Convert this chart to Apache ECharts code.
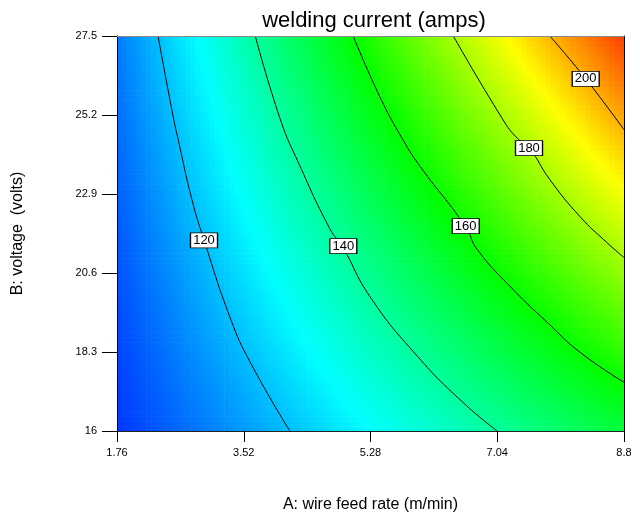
<!DOCTYPE html>
<html>
<head>
<meta charset="utf-8">
<script src="https://cdn.jsdelivr.net/npm/echarts@6/dist/echarts.min.js"></script>
<style>
  html, body { margin: 0; padding: 0; background: #fff; }
  #chart { width: 640px; height: 518px; }
</style>
</head>
<body>
<div id="chart"></div>
<script>
  // A: wire feed rate (m/min) and B: voltage (volts) at the tick positions
  const feedRate = [1.76, 3.52, 5.28, 7.04, 8.8]
  const voltage = [16, 18.3, 20.6, 22.9, 25.2, 27.5]
  // welding current, one row per voltage, one column per feed rate
  const current = [
    [102.8, 115.2, 127.6, 140.0, 152.4],
    [104.5, 119.6, 134.8, 149.9, 165.1],
    [106.2, 124.0, 141.9, 159.8, 177.7],
    [107.9, 128.5, 149.1, 169.7, 190.3],
    [109.6, 132.9, 156.2, 179.6, 202.9],
    [111.3, 137.4, 163.4, 189.4, 215.5]
  ]

  // contour lines, [feed rate, voltage]
  const levels = [120, 140, 160, 180, 200]
  const c120 = [[2.33, 27.5], [2.54, 25.15], [2.61, 24.48], [2.8, 22.74], [2.97, 21.55], [3.34, 19.25], [3.61, 18.0], [4.16, 16]]
  const c140 = [[3.68, 27.5], [4.03, 25.06], [4.28, 23.81], [4.72, 21.87], [4.89, 21.37], [5.27, 19.92], [5.93, 18.18], [6.56, 16.84], [7.04, 16]]
  const c160 = [[5.04, 27.5], [5.41, 25.73], [5.73, 24.48], [5.97, 23.7], [6.6, 21.95], [6.76, 21.29], [7.26, 20.12], [7.73, 19.17], [8.19, 18.29], [8.8, 17.42]]
  const c180 = [[6.43, 27.5], [7.12, 25.06], [7.31, 24.54], [7.48, 24.25], [7.77, 23.32], [8.19, 22.24], [8.56, 21.49], [8.8, 21.05]]
  const c200 = [[7.77, 27.5], [8.27, 26.25], [8.8, 24.77]]
  const contours = [c120, c140, c160, c180, c200]
  // where the level labels sit
  const labelPos = [[2.968, 21.547], [4.902, 21.381], [6.602, 21.962], [7.481, 24.239], [8.268, 26.251]]

  const palette = ['#0000ff', '#00ffff', '#00ff00', '#ffff00', '#ff0000']
  const colorMin = 96
  const colorMax = 223

  function colorOf(v) {
    let t = (v - colorMin) / (colorMax - colorMin)
    t = Math.max(0, Math.min(1, t))
    return echarts.color.lerp(t, palette)
  }

  const nodes = []
  voltage.forEach((b, j) => {
    feedRate.forEach((a, i) => {
      nodes.push([a, b, current[j][i]])
    })
  })

  // shade each cell between four nodes
  function renderCell(params, api) {
    const idx = params.dataIndex
    const i = idx % feedRate.length
    const j = Math.floor(idx / feedRate.length)
    if (i >= feedRate.length - 1 || j >= voltage.length - 1) return
    const p0 = api.coord([feedRate[i], voltage[j]])
    const p1 = api.coord([feedRate[i + 1], voltage[j + 1]])
    const v00 = current[j][i]
    const v10 = current[j][i + 1]
    const v01 = current[j + 1][i]
    const v11 = current[j + 1][i + 1]
    const nx = 26
    const ny = 16
    const w = (p1[0] - p0[0]) / nx
    const h = (p0[1] - p1[1]) / ny
    const children = []
    for (let a = 0; a < nx; a++) {
      for (let b = 0; b < ny; b++) {
        const s = (a + 0.5) / nx
        const t = (b + 0.5) / ny
        const v = v00 * (1 - s) * (1 - t) + v10 * s * (1 - t) + v01 * (1 - s) * t + v11 * s * t
        children.push({
          type: 'rect',
          shape: { x: p0[0] + a * w, y: p0[1] - (b + 1) * h, width: w + 0.6, height: h + 0.6 },
          style: { fill: colorOf(v) }
        })
      }
    }
    return { type: 'group', children: children }
  }

  const font = 'Liberation Sans'
  const chart = echarts.init(document.getElementById('chart'))

  const series = [{
    type: 'custom',
    renderItem: renderCell,
    data: nodes,
    encode: { x: 0, y: 1 },
    clip: true,
    silent: true,
    z: 1
  }]
  contours.forEach((c, k) => {
    series.push({
      name: String(levels[k]),
      type: 'line',
      data: c,
      smooth: 0.5,
      showSymbol: false,
      silent: true,
      lineStyle: { color: '#000', width: 1 },
      z: 5
    })
  })
  series.push({
    type: 'scatter',
    data: levels.map((lv, k) => [labelPos[k][0], labelPos[k][1], lv]),
    symbol: 'rect',
    symbolSize: [27, 15],
    silent: true,
    itemStyle: { color: '#fff', borderColor: '#000', borderWidth: 1, opacity: 1 },
    label: {
      show: true,
      position: 'inside',
      color: '#000',
      fontSize: 13,
      fontFamily: font,
      formatter: p => p.value[2]
    },
    z: 6
  })

  chart.setOption({
    backgroundColor: '#fff',
    animation: false,
    title: {
      text: 'welding current (amps)',
      left: 369,
      top: 5,
      textAlign: 'center',
      textStyle: { color: '#000', fontSize: 22, fontWeight: 'normal', fontFamily: font }
    },
    grid: { left: 117, top: 36, width: 507, height: 396 },
    xAxis: [{
      type: 'value',
      min: 1.76,
      max: 8.8,
      interval: 1.76,
      position: 'bottom',
      z: 10,
      axisLine: { lineStyle: { color: '#222', width: 1 } },
      axisTick: { length: 11, lineStyle: { color: '#000' } },
      axisLabel: {
        margin: 16,
        color: '#000',
        fontSize: 11,
        fontFamily: font,
        formatter: v => String(parseFloat(v.toFixed(2)))
      },
      splitLine: { show: false },
      name: 'A: wire feed rate (m/min)',
      nameLocation: 'middle',
      nameGap: 66,
      nameTextStyle: { color: '#000', fontSize: 16, fontFamily: font }
    }, {
      type: 'value',
      min: 1.76,
      max: 8.8,
      position: 'top',
      z: 10,
      axisLine: { lineStyle: { color: '#888', width: 1 } },
      axisTick: { show: false },
      axisLabel: { show: false },
      splitLine: { show: false }
    }],
    yAxis: [{
      type: 'value',
      min: 16,
      max: 27.5,
      position: 'left',
      z: 10,
      axisLine: { show: true, lineStyle: { color: '#000', width: 1 } },
      axisTick: { show: true, length: 15, customValues: voltage, lineStyle: { color: '#000' } },
      axisLabel: {
        margin: 20,
        color: '#000',
        fontSize: 11,
        fontFamily: font,
        customValues: voltage,
        formatter: v => String(v)
      },
      splitLine: { show: false },
      name: 'B: voltage  (volts)',
      nameLocation: 'middle',
      nameRotate: 90,
      nameGap: 91,
      nameTextStyle: { color: '#000', fontSize: 16, fontFamily: font }
    }, {
      type: 'value',
      min: 16,
      max: 27.5,
      position: 'right',
      z: 10,
      axisLine: { show: true, lineStyle: { color: '#000', width: 1 } },
      axisTick: { show: false },
      axisLabel: { show: false },
      splitLine: { show: false }
    }],
    series: series
  })
</script>
</body>
</html>
